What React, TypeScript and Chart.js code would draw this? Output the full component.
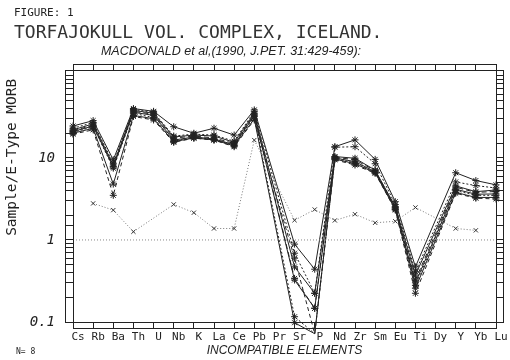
import React, { useEffect, useRef } from 'react';
import { Chart, registerables } from 'chart.js';

Chart.register(...registerables);

// ---------------- data ----------------
const elements = ['Cs', 'Rb', 'Ba', 'Th', 'U', 'Nb', 'K', 'La', 'Ce', 'Pb', 'Pr', 'Sr', 'P', 'Nd', 'Zr', 'Sm', 'Eu', 'Ti', 'Dy', 'Y', 'Yb', 'Lu'];

const sample1 = [24.5, 28.5, 9.5, 40, 37, 24, 20, 23, 19, 38.5, null, 0.89, 0.44, 13.7, 16.6, 9.6, 2.93, 0.47, null, 6.6, 5.3, 4.7];
const sample2 = [23, 27, 8.6, 39, 36, 18.5, 19.5, 19, 16, 37, null, 0.69, 0.224, 13.5, 13.7, 8.5, 2.7, 0.41, null, 5.1, 4.6, 4.3];
const sample3 = [22, 26, 8.2, 38, 35, 18, 19, 18.5, 15.5, 35, null, 0.47, 0.224, 10.4, 9.9, 7.1, 2.55, 0.374, null, 4.56, 3.88, 4.07];
const sample4 = [21.5, 25, 7.8, 37, 34, 17.4, 18.5, 17.5, 15, 34, null, 0.34, 0.147, 10.2, 9.5, 7.0, 2.5, 0.325, null, 4.4, 3.8, 3.9];
const sample5 = [21, 24.5, 7.8, 36, 33, 16.5, 18, 17, 14.5, 33, null, 0.325, 0.147, 10, 9.0, 6.8, 2.45, 0.3, null, 4.15, 3.61, 3.64];
const sample6 = [20.5, 24, 7.5, 35, 31, 16, 17.8, 16.8, 14.2, 32, null, 0.116, 0.072, 9.9, 8.7, 6.7, 2.4, 0.28, null, 4.0, 3.5, 3.5];
const sample7 = [20, 23, 4.8, 33, 30, 15.8, 17.5, 16.6, 14, 30, null, 0.098, 0.072, 9.7, 8.5, 6.6, 2.35, 0.258, null, 3.8, 3.3, 3.3];
const sample8 = [19.5, 22, 3.5, 32, 29, 15.5, 17.4, 16.5, 13.7, 29, null, 0.6, 0.072, 9.5, 8.2, 6.5, 2.32, 0.224, null, 3.71, 3.23, 3.16];

const referenceLine = [null, 2.79, 2.31, 1.26, null, 2.71, 2.15, 1.38, 1.38, 16.5, null, 1.74, 2.35, 1.73, 2.06, 1.62, 1.69, 2.49, null, 1.38, 1.31, null];
const unityLine = [1, 1, 1, 1, 1, 1, 1, 1, 1, 1, 1, 1, 1, 1, 1, 1, 1, 1, 1, 1, 1, 1];

const yMin = 0.1;
const yMax = 118;
const yTickLabels = [0.1, 1, 10];

const samples = [sample1, sample2, sample3, sample4, sample5, sample6, sample7, sample8];
const sampleDashes = [[], [2, 2], [], [5, 3], [], [2, 2], [], [4, 3]];

const INK = '#222';
const MONO = '"DejaVu Sans Mono", monospace';
const SANS = '"Liberation Sans", Arial, sans-serif';

const stripPlugin = {
  id: 'stripFrame',
  afterDraw(chart: any) {
    const { ctx, chartArea } = chart;
    const l = Math.round(chartArea.left) + 0.5;
    const r = Math.round(chartArea.right) + 0.5;
    const t = Math.round(chartArea.top) + 0.5;
    const b = Math.round(chartArea.bottom) + 0.5;
    ctx.save();
    ctx.strokeStyle = INK;
    ctx.lineWidth = 1;
    ctx.strokeRect(l - 8, t, 8, b - t);
    ctx.strokeRect(r, t, 7, b - t);
    ctx.strokeRect(l, t - 6, r - l, 6);
    ctx.strokeRect(l, b, r - l, 6);
    ctx.restore();
  },
};

export default function App() {
  const canvasRef = useRef<HTMLCanvasElement | null>(null);

  useEffect(() => {
    if (!canvasRef.current) return;
    const datasets: any[] = [
      {
        label: 'unity',
        data: unityLine,
        borderColor: '#888',
        borderWidth: 1,
        borderDash: [1, 2],
        pointRadius: 0,
        spanGaps: true,
      },
      {
        label: 'reference',
        data: referenceLine,
        borderColor: '#777',
        borderWidth: 1,
        borderDash: [1, 2],
        pointStyle: 'crossRot',
        pointRadius: 3,
        pointBorderColor: '#333',
        pointBorderWidth: 1,
        spanGaps: true,
        clip: false,
      },
      ...samples.map((s, i) => ({
        label: 'sample ' + (i + 1),
        data: s,
        borderColor: INK,
        borderWidth: 1,
        borderDash: sampleDashes[i],
        pointStyle: 'star',
        pointRadius: 3.5,
        pointBorderColor: INK,
        pointBorderWidth: 1,
        spanGaps: true,
        clip: false,
      })),
    ];

    const chart = new Chart(canvasRef.current, {
      type: 'line',
      data: { labels: elements, datasets },
      plugins: [stripPlugin],
      options: {
        animation: false,
        responsive: false,
        layout: { padding: 0 },
        plugins: {
          legend: { display: false },
          tooltip: { enabled: false },
        },
        scales: {
          x: {
            type: 'category',
            position: 'bottom',
            offset: false,
            afterFit: (s: any) => { s.height = 38; },
            grid: { drawOnChartArea: false, drawTicks: true, tickLength: 6, color: INK },
            border: { display: true, color: INK, width: 1 },
            ticks: {
              autoSkip: false,
              maxRotation: 0,
              padding: 3,
              labelOffset: 5,
              color: INK,
              font: { family: MONO, size: 11 },
            },
            title: {
              display: true,
              text: 'INCOMPATIBLE ELEMENTS',
              color: INK,
              font: { family: SANS, size: 12, style: 'italic' },
              padding: { top: 0, bottom: 2 },
            },
          },
          x2: {
            type: 'category',
            position: 'top',
            offset: false,
            afterFit: (s: any) => { s.height = 70; },
            grid: { drawOnChartArea: false, drawTicks: true, tickLength: 6, color: INK },
            border: { display: true, color: INK, width: 1 },
            ticks: { display: false, autoSkip: false },
          },
          y: {
            type: 'logarithmic',
            position: 'left',
            min: yMin,
            max: yMax,
            afterFit: (s: any) => { s.width = 73; },
            grid: { drawOnChartArea: false, drawTicks: true, tickLength: 8, color: INK },
            border: { display: true, color: INK, width: 1 },
            ticks: {
              autoSkip: false,
              padding: 10,
              color: INK,
              font: { family: MONO, size: 14, style: 'italic' },
              callback: (v: any) => {
                const n = Number(v);
                const hit = yTickLabels.find((t) => Math.abs(n - t) < t * 1e-6);
                return hit === undefined ? '' : String(hit);
              },
            },
            title: {
              display: true,
              text: 'Sample/E-Type MORB ',
              align: 'end',
              color: INK,
              font: { family: MONO, size: 14.5 },
              padding: { top: 4, bottom: 0 },
            },
          },
          y2: {
            type: 'logarithmic',
            position: 'right',
            min: yMin,
            max: yMax,
            afterFit: (s: any) => { s.width = 14; },
            grid: { drawOnChartArea: false, drawTicks: true, tickLength: 7, color: INK },
            border: { display: true, color: INK, width: 1 },
            ticks: { display: false, autoSkip: false },
          },
        },
      } as any,
    });
    return () => chart.destroy();
  }, []);

  const wrap: React.CSSProperties = { position: 'absolute', left: 0, top: 0, width: 510, height: 360, background: '#fff' };
  const txt: React.CSSProperties = { position: 'absolute', color: INK, whiteSpace: 'pre', lineHeight: 1, margin: 0 };

  return (
    <div style={wrap}>
      <canvas ref={canvasRef} width={510} height={360} style={{ position: 'absolute', left: 0, top: 0 }} />
      <div style={{ ...txt, left: 14, top: 7, fontFamily: MONO, fontSize: 11 }}>FIGURE: 1</div>
      <div style={{ ...txt, left: 14, top: 23, fontFamily: MONO, fontSize: 18, color: '#333' }}>TORFAJOKULL VOL. COMPLEX, ICELAND.</div>
      <div style={{ ...txt, left: 0, width: 462, top: 45, textAlign: 'center', fontFamily: SANS, fontSize: 12.5, fontStyle: 'italic' }}>MACDONALD et al,(1990, J.PET. 31:429-459):</div>
      <div style={{ ...txt, left: 16, top: 348, fontFamily: MONO, fontSize: 8 }}>N= 8</div>
    </div>
  );
}
